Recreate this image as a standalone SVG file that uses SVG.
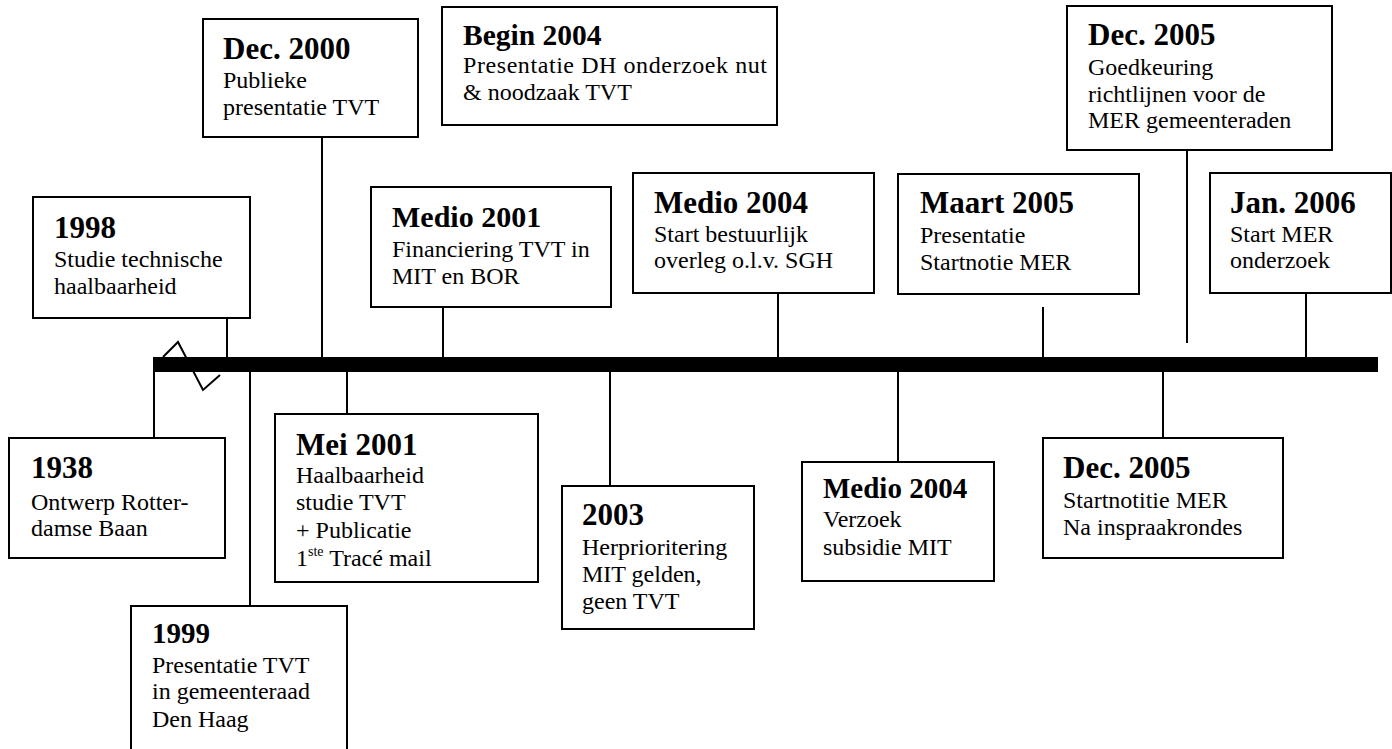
<svg xmlns="http://www.w3.org/2000/svg" width="1392" height="749" viewBox="0 0 1392 749">
<style>
.box{fill:#fff;stroke:#000;stroke-width:2}
.ln{stroke:#000;stroke-width:2;fill:none}
text{font-family:"Liberation Serif","Times New Roman",serif;fill:#000}
.t{font-weight:bold;font-size:31px}
.b{font-size:24px}
</style>
<rect width="1392" height="749" fill="#fff"/>
<g id="connectors">
<polyline class="ln" points="163,357 178,342 203,390 220,375"/>
<line class="ln" x1="227" y1="318" x2="227" y2="360"/>
<line class="ln" x1="322" y1="137" x2="322" y2="360"/>
<line class="ln" x1="443" y1="307" x2="443" y2="360"/>
<line class="ln" x1="778" y1="293" x2="778" y2="360"/>
<line class="ln" x1="1043" y1="307" x2="1043" y2="360"/>
<line class="ln" x1="1187" y1="150" x2="1187" y2="343"/>
<line class="ln" x1="1306" y1="293" x2="1306" y2="360"/>
<line class="ln" x1="154" y1="370" x2="154" y2="438"/>
<line class="ln" x1="250" y1="370" x2="250" y2="606"/>
<line class="ln" x1="347" y1="370" x2="347" y2="414"/>
<line class="ln" x1="610" y1="370" x2="610" y2="486"/>
<line class="ln" x1="898" y1="370" x2="898" y2="462"/>
<line class="ln" x1="1163" y1="370" x2="1163" y2="438"/>
<rect id="timeline" x="153" y="357" width="1225" height="15" fill="#000"/>
</g>
<g id="n1998">
<rect class="box" x="33" y="197" width="217" height="121"/>
<text class="t" x="54" y="238">1998</text>
<text class="b" x="54" y="267">Studie technische</text>
<text class="b" x="54" y="294">haalbaarheid</text>
</g>
<g id="n2000">
<rect class="box" x="203" y="19" width="215" height="118"/>
<text class="t" x="223" y="59">Dec. 2000</text>
<text class="b" x="223" y="88">Publieke</text>
<text class="b" x="223" y="115">presentatie TVT</text>
</g>
<g id="nbegin2004">
<rect class="box" x="442" y="7" width="335" height="118"/>
<text class="t" x="463" y="45" style="font-size:29.5px">Begin 2004</text>
<text class="b" x="463" y="73" textLength="304" lengthAdjust="spacing">Presentatie DH onderzoek nut</text>
<text class="b" x="463" y="100">&amp; noodzaak TVT</text>
</g>
<g id="nmedio2001">
<rect class="box" x="371" y="187" width="240" height="120"/>
<text class="t" x="392" y="227" style="font-size:30px">Medio 2001</text>
<text class="b" x="392" y="257">Financiering TVT in</text>
<text class="b" x="392" y="284">MIT en BOR</text>
</g>
<g id="nmedio2004top">
<rect class="box" x="633" y="173" width="241" height="120"/>
<text class="t" x="654" y="213">Medio 2004</text>
<text class="b" x="654" y="242">Start bestuurlijk</text>
<text class="b" x="654" y="268">overleg o.l.v. SGH</text>
</g>
<g id="nmaart2005">
<rect class="box" x="898" y="174" width="241" height="120"/>
<text class="t" x="920" y="213">Maart 2005</text>
<text class="b" x="920" y="243">Presentatie</text>
<text class="b" x="920" y="270">Startnotie MER</text>
</g>
<g id="ndec2005top">
<rect class="box" x="1067" y="6" width="265" height="144"/>
<text class="t" x="1088" y="45">Dec. 2005</text>
<text class="b" x="1088" y="75">Goedkeuring</text>
<text class="b" x="1088" y="102">richtlijnen voor de</text>
<text class="b" x="1088" y="128">MER gemeenteraden</text>
</g>
<g id="njan2006">
<rect class="box" x="1210" y="173" width="181" height="120"/>
<text class="t" x="1230" y="213">Jan. 2006</text>
<text class="b" x="1230" y="242">Start MER</text>
<text class="b" x="1230" y="268">onderzoek</text>
</g>
<g id="n1938">
<rect class="box" x="9" y="438" width="216" height="120"/>
<text class="t" x="31" y="478">1938</text>
<text class="b" x="31" y="510">Ontwerp Rotter-</text>
<text class="b" x="31" y="536">damse Baan</text>
</g>
<g id="n1999">
<rect class="box" x="131" y="606" width="216" height="160"/>
<text class="t" x="152" y="643" style="font-size:29px">1999</text>
<text class="b" x="152" y="673">Presentatie TVT</text>
<text class="b" x="152" y="699">in gemeenteraad</text>
<text class="b" x="152" y="727">Den Haag</text>
</g>
<g id="nmei2001">
<rect class="box" x="275" y="414" width="263" height="168"/>
<text class="t" x="296" y="455">Mei 2001</text>
<text class="b" x="296" y="483">Haalbaarheid</text>
<text class="b" x="296" y="510">studie TVT</text>
<text class="b" x="296" y="538">+ Publicatie</text>
<text class="b" x="296" y="566">1<tspan font-size="14" dy="-10">ste</tspan><tspan dy="10"> Tracé mail</tspan></text>
</g>
<g id="n2003">
<rect class="box" x="562" y="486" width="192" height="143"/>
<text class="t" x="582" y="525">2003</text>
<text class="b" x="582" y="555">Herprioritering</text>
<text class="b" x="582" y="582">MIT gelden,</text>
<text class="b" x="582" y="609">geen TVT</text>
</g>
<g id="nmedio2004bottom">
<rect class="box" x="802" y="462" width="192" height="119"/>
<text class="t" x="823" y="498" style="font-size:29px">Medio 2004</text>
<text class="b" x="823" y="527">Verzoek</text>
<text class="b" x="823" y="555">subsidie MIT</text>
</g>
<g id="ndec2005bottom">
<rect class="box" x="1043" y="438" width="240" height="120"/>
<text class="t" x="1063" y="478">Dec. 2005</text>
<text class="b" x="1063" y="508">Startnotitie MER</text>
<text class="b" x="1063" y="535">Na inspraakrondes</text>
</g>
</svg>
